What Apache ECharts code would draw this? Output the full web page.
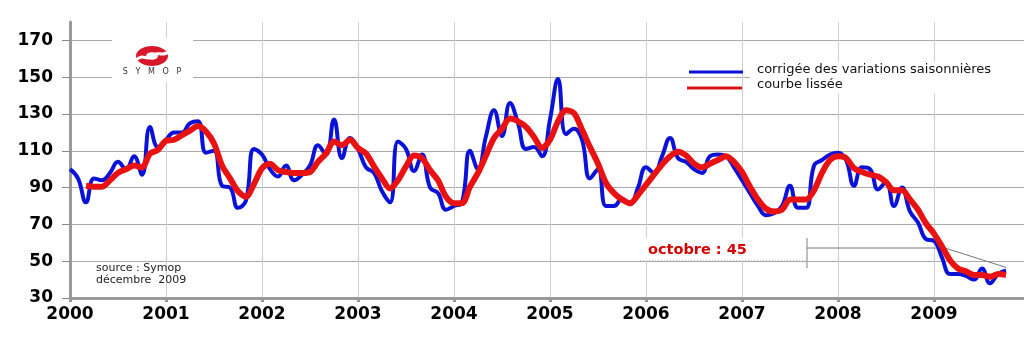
<!DOCTYPE html>
<html><head><meta charset="utf-8">
<script src="https://cdn.jsdelivr.net/npm/echarts@6.0.0/dist/echarts.min.js"></script>
<style>html,body{margin:0;padding:0;background:#fff}#c{width:1024px;height:338px}</style>
</head><body><div id="c"></div>
<script>
// ---- data ----
const startYear = 2000;            // first month = January 2000
const yTicks = [30, 50, 70, 90, 110, 130, 150, 170];
const xYears = [2000, 2001, 2002, 2003, 2004, 2005, 2006, 2007, 2008, 2009];
const seriesNames = ['corrigée des variations saisonnières', 'courbe lissée'];
// monthly index, seasonally adjusted (Jan 2000 .. Oct 2009)
const blue = [
  100, 95, 82, 95, 94, 98, 104, 100, 107, 97, 123, 112,
  116, 120, 120, 125, 126, 109, 110, 91, 90, 79, 83, 111,
  108, 100, 96, 102, 94, 97, 102, 113, 108, 127, 106, 117,
  111, 101, 98, 88, 82, 115, 111, 99, 108, 90, 87, 78,
  80, 82, 110, 100, 118, 132, 118, 136, 125, 111, 112, 107,
  127, 149, 119, 122, 116, 95, 100, 80, 80, 84, 81, 90,
  101, 98, 107, 117, 106, 104, 100, 98, 107, 108, 107, 101,
  94, 87, 80, 75, 76, 80, 91, 79, 79, 102, 105, 108,
  109, 105, 91, 101, 100, 89, 93, 80, 90, 77, 71, 62,
  61, 52, 43, 43, 42, 40, 46, 38, 43, 45
];
// smoothed curve (same months, starts March 2000)
const red = [
  null, null, 91, 90.5, 90.5, 94, 98, 100, 102, 101, 108.5, 110.5,
  115.5, 116, 118.5, 121, 123.5, 120.5, 114, 102, 95, 88, 85, 92,
  100.5, 103, 99.5, 98.5, 98, 98, 98.5, 104, 108.5, 115, 113, 116,
  111.5, 108.5, 101.5, 95, 89.5, 94, 101.5, 107.5, 106, 99.5, 94, 85,
  81.5, 81.5, 90.5, 98, 107.5, 117, 122, 127.5, 126, 123, 117.5, 111.5,
  116, 126, 132, 130.5, 121.5, 112, 103, 92.5, 87, 83.5, 81.5, 86,
  91.5, 97, 102.5, 107, 109.5, 107.5, 103, 101, 103, 105, 107, 104,
  98.5, 90.5, 83.5, 78.5, 77, 78, 83.5, 83.5, 83.5, 88.5, 98, 105,
  107, 106, 100.5, 98.5, 97, 96, 93, 88.5, 88.5, 83.5, 78, 70.5,
  65, 58, 50.5, 46, 44.5, 42.5, 42.5, 41.5, 43, 42.5
];
const sourceLines = ['source : Symop', 'décembre  2009'];
const noteText = 'octobre : 45';
const logoText = 'S   Y   M   O   P';

// ---- build ----
function toPairs(arr) {
  const out = [];
  arr.forEach((v, i) => { if (v != null) out.push([startYear + i / 12, v]); });
  return out;
}
const blueData = toPairs(blue);
const redData = toPairs(red);

const chart = echarts.init(document.getElementById('c'), null, { renderer: 'canvas' });
const labelFont = { fontFamily: 'DejaVu Sans', fontWeight: 'bold', fontSize: 17, color: '#000' };

chart.setOption({
  animation: false,
  backgroundColor: '#fff',
  grid: { left: 70, top: 22, right: -6, bottom: 40, outerBoundsMode: 'none', containLabel: false },
  xAxis: {
    type: 'value', min: 2000, max: 2010, interval: 1,
    axisLine: { show: true, lineStyle: { color: '#9a9a9a', width: 3 } },
    axisTick: { show: true, length: 4, lineStyle: { color: '#999', width: 3 } },
    axisLabel: Object.assign({ margin: 8, formatter: v => (xYears.indexOf(v) >= 0 ? String(v) : '') }, labelFont),
    splitLine: { show: true, lineStyle: { color: '#d0d0d0', width: 1 } }
  },
  yAxis: {
    type: 'value', min: 30, max: 180, interval: 10,
    axisLine: { show: true, lineStyle: { color: '#9a9a9a', width: 3 } },
    axisTick: { show: true, customValues: yTicks, length: 8, lineStyle: { color: '#888', width: 1 } },
    axisLabel: Object.assign({ margin: 17, customValues: yTicks }, labelFont),
    splitLine: { show: true, lineStyle: { color: '#ababab', width: 1 } }
  },
  series: [
    { name: seriesNames[0], type: 'line', data: blueData, showSymbol: false, symbol: 'none',
      smooth: 0.45, lineStyle: { color: '#0a12d8', width: 4 }, itemStyle: { color: '#0a12d8' }, z: 3 },
    { name: seriesNames[1], type: 'line', data: redData, showSymbol: false, symbol: 'none',
      smooth: 0.3, lineStyle: { color: '#e81212', width: 6 }, itemStyle: { color: '#e81212' }, z: 4 }
  ]
});

const last = blue.length - 1;
const endPt = chart.convertToPixel({ gridIndex: 0 }, [startYear + last / 12, blue[last]]);

chart.setOption({
  graphic: [
    // logo background + logo
    { type: 'rect', shape: { x: 112, y: 38, width: 81, height: 44 }, style: { fill: '#fff' }, z: 1 },
    { type: 'ring', x: 152, y: 56, scaleY: 0.62, shape: { cx: 0, cy: 0, r: 16, r0: 6 }, style: { fill: '#d8182a' }, z: 2 },
    { type: 'bezierCurve', shape: { x1: 135, y1: 61, cpx1: 143, cpy1: 52, cpx2: 147, cpy2: 62, x2: 152, y2: 56 },
      style: { fill: null, stroke: '#fff', lineWidth: 3 }, z: 3 },
    { type: 'bezierCurve', shape: { x1: 152, y1: 56, cpx1: 157, cpy1: 50, cpx2: 162, cpy2: 58, x2: 170, y2: 51 },
      style: { fill: null, stroke: '#fff', lineWidth: 3 }, z: 3 },
    { type: 'text', x: 152, y: 72, style: { text: logoText, fill: '#333', font: '8px "DejaVu Sans"', align: 'center', verticalAlign: 'middle' }, z: 2 },
    // legend box
    { type: 'rect', shape: { x: 750, y: 62, width: 274, height: 31 }, style: { fill: '#fff' }, z: 1 },
    { type: 'line', shape: { x1: 689, y1: 72, x2: 743, y2: 72 }, style: { stroke: '#0a12d8', lineWidth: 3 }, z: 2 },
    { type: 'line', shape: { x1: 687, y1: 88, x2: 742, y2: 88 }, style: { stroke: '#d81818', lineWidth: 3 }, z: 2 },
    { type: 'text', x: 757, y: 70, style: { text: seriesNames[0], fill: '#111', font: '13px "DejaVu Sans"', verticalAlign: 'middle' }, z: 2 },
    { type: 'text', x: 757, y: 85, style: { text: seriesNames[1], fill: '#111', font: '13px "DejaVu Sans"', verticalAlign: 'middle' }, z: 2 },
    // source
    { type: 'text', x: 96, y: 268, style: { text: sourceLines[0], fill: '#222', font: '11px "DejaVu Sans"', verticalAlign: 'middle' }, z: 2 },
    { type: 'text', x: 96, y: 280, style: { text: sourceLines[1], fill: '#222', font: '11px "DejaVu Sans"', verticalAlign: 'middle' }, z: 2 },
    // annotation
    { type: 'rect', shape: { x: 640, y: 238, width: 166, height: 23 }, style: { fill: '#fff' }, z: 1 },
    { type: 'line', shape: { x1: 640, y1: 261, x2: 806, y2: 261 }, style: { stroke: '#999', lineWidth: 1, lineDash: [1, 2] }, z: 2 },
    { type: 'text', x: 648, y: 250, style: { text: noteText, fill: '#d40000', font: 'bold 14.5px "DejaVu Sans"', verticalAlign: 'middle' }, z: 2 },
    { type: 'line', shape: { x1: 807, y1: 238, x2: 807, y2: 268 }, style: { stroke: '#aaa', lineWidth: 1.5 }, z: 2 },
    { type: 'polyline', shape: { points: [[807, 248], [945, 248], [endPt[0], endPt[1] - 3]] }, style: { stroke: '#777', lineWidth: 1, fill: null }, z: 2 }
  ]
});
</script>
</body></html>
